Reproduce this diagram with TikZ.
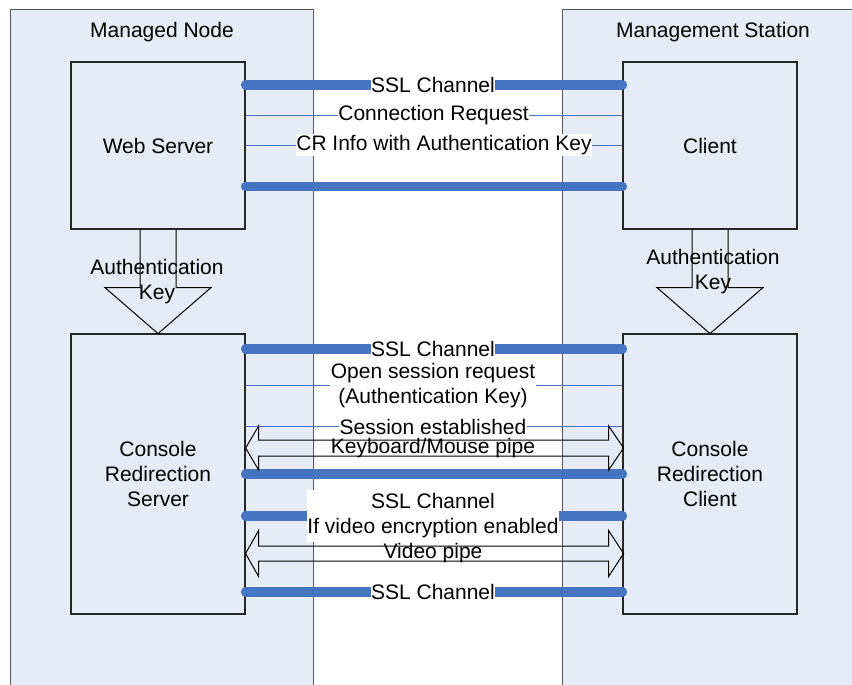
\documentclass[tikz,border=0pt]{standalone}
\usepackage{fontspec}
\setmainfont{Liberation Sans}
\usetikzlibrary{calc}
\definecolor{bgblue}{HTML}{E6ECF7}
\definecolor{lineblue}{HTML}{4674C1}
\pgfdeclarelayer{back}
\pgfdeclarelayer{mid}
\pgfsetlayers{back,mid,main}
\begin{document}
\begin{tikzpicture}[x=1pt,y=-1pt,
  txt/.style={font=\fontsize{21}{25}\selectfont, align=center, inner sep=0pt},
  lbl/.style={txt, fill=white, inner xsep=0.5pt, inner ysep=1.5pt},
  region/.style={draw=black!65, line width=1.2pt, fill=bgblue, inner sep=0pt, anchor=north west, minimum height=700pt},
  box/.style={txt, draw=black!85, line width=1.2pt, fill=bgblue, minimum width=174pt},
  ssl/.style={draw=lineblue, line width=9.5pt, line cap=round},
  msg/.style={draw=lineblue, line width=1pt},
  pipe/.style={draw=black, line width=1pt},
  keyarrow/.style={draw=black, line width=1pt}]
\useasboundingbox (0,0) rectangle (852,685);

\begin{pgfonlayer}{back}
  \fill[white] (0,0) rectangle (852,685);
  \node[region, minimum width=303pt] (mn) at (10,9) {};
  \node[region, minimum width=320pt] (ms) at (562,9) {};
  \node[box, minimum height=167pt] (ws) at (158,145.5) {Web Server};
  \node[box, minimum height=167pt] (cl) at (710,145.5) {Client};
  \node[box, minimum height=280pt] (crs) at (158,474) {Console\\Redirection\\Server};
  \node[box, minimum height=280pt] (crc) at (710,474) {Console\\Redirection\\Client};
\end{pgfonlayer}

\node[txt] (mnl) at (162,32.5) {Managed Node};
\node[txt] (msl) at (713,32.5) {Management Station};

% message labels
\node[lbl] (s1) at (433,85) {SSL Channel};
\node[lbl] (m1) at (433.5,115) {Connection Request};
\node[lbl] (m2) at (444,145) {CR Info with Authentication Key};
\node[lbl] (s2) at (433,349) {SSL Channel};
\node[lbl] (m3) at (433,385.5) {Open session request\\(Authentication Key)};
\node[lbl, inner ysep=0.5pt] (m4) at (433,426.5) {Session established};
\node[txt] (kbl) at (433,448) {Keyboard/Mouse pipe};
\node[lbl, inner ysep=3.5pt] (s3) at (433,516) {SSL Channel\\If video encryption enabled};
\node[txt] (vpl) at (433,553.5) {Video pipe};
\node[lbl] (s4) at (433,592) {SSL Channel};

\node[txt] (k1) at (157,282) {Authentication\\Key};
\node[txt] (k2) at (713,272) {Authentication\\Key};

\begin{pgfonlayer}{mid}
  \draw[ssl] (ws.east |- s1) -- (cl.west |- s1);
  \draw[msg] (ws.east |- m1) -- (cl.west |- m1);
  \draw[msg] (ws.east |- m2) -- (cl.west |- m2);
  \draw[ssl] ([yshift=-125pt]ws.north east) -- ([yshift=-125pt]cl.north west);

  \draw[ssl] (crs.east |- s2) -- (crc.west |- s2);
  \draw[msg] (crs.east |- m3) -- (crc.west |- m3);
  \draw[msg] (crs.east |- m4) -- (crc.west |- m4);
  \draw[ssl] (crs.east) -- (crc.west);
  \draw[ssl] (crs.east |- s3) -- (crc.west |- s3);
  \draw[ssl] (crs.east |- s4) -- (crc.west |- s4);

  \draw[pipe] (crs.east |- kbl) -- ++(13,-22) -- ++(0,14) -- ++(350,0) -- ++(0,-14)
      -- ++(15,22) -- ++(-15,22) -- ++(0,-14) -- ++(-350,0) -- ++(0,14) -- cycle;
  \draw[pipe] (crs.east |- vpl) -- ++(13,-23) -- ++(0,15.5) -- ++(350,0) -- ++(0,-15.5)
      -- ++(15,23) -- ++(-15,23) -- ++(0,-15.5) -- ++(-350,0) -- ++(0,15.5) -- cycle;

  \draw[keyarrow] ([xshift=-18pt]ws.south) -- ++(0,58) -- ++(-35,0) -- ++(53,46)
      -- ++(53,-46) -- ++(-35,0) -- ++(0,-58);
  \draw[keyarrow] ([xshift=-18pt]cl.south) -- ++(0,58) -- ++(-35,0) -- ++(53,46)
      -- ++(53,-46) -- ++(-35,0) -- ++(0,-58);
\end{pgfonlayer}
\end{tikzpicture}
\end{document}
